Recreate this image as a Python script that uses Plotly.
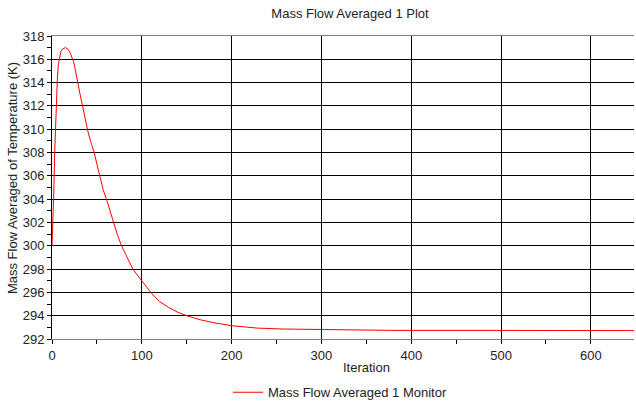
import plotly.graph_objects as go

# Monitor history: iteration number and mass-flow-averaged temperature (K)
iterations = [0, 1, 2, 3, 4, 5, 6, 7, 8, 9, 10, 12, 15, 18, 20, 22, 24, 26, 28,
              31, 34, 37, 40, 44, 47, 50, 53, 57, 61, 65, 69, 73, 78, 84, 90,
              100, 111, 120, 130, 140, 150, 165, 180, 200, 228, 255, 300, 374,
              378, 480, 648]
temperature = [300.0, 302.0, 304.6, 308.0, 310.6, 313.0, 314.4, 315.5, 316.0,
               316.5, 316.7, 316.9, 317.0, 316.85, 316.6, 316.2, 315.8, 315.1,
               314.2, 313.1, 312.0, 310.9, 309.8, 308.7, 308.0, 307.0, 306.0,
               304.8, 303.9, 302.9, 301.8, 300.9, 299.9, 298.9, 298.0, 297.0,
               295.9, 295.2, 294.7, 294.3, 294.0, 293.65, 293.4, 293.14, 292.94,
               292.86, 292.83, 292.80, 292.74, 292.74, 292.72]

x_ticks = [0, 100, 200, 300, 400, 500, 600]
y_ticks = [292, 294, 296, 298, 300, 302, 304, 306, 308, 310, 312, 314, 316, 318]

FONT = "Liberation Sans, Arial, sans-serif"
W, H = 636, 409
ML, MR, MT, MB = 52, 2, 36, 66
PW, PH = W - ML - MR, H - MT - MB


def px_x(p):
    return (p - ML) / PW


def px_y(p):
    return (H - MB - p) / PH


fig = go.Figure()
fig.add_trace(go.Scatter(
    x=iterations, y=temperature, mode="lines",
    name="Mass Flow Averaged 1 Monitor",
    line=dict(color="#ff0000", width=1),
))

fig.update_layout(
    width=W, height=H,
    margin=dict(l=ML, r=MR, t=MT, b=MB),
    paper_bgcolor="white", plot_bgcolor="white",
    font=dict(family=FONT, size=13, color="#222222"),
    title=dict(text="Mass Flow Averaged 1 Plot", x=350 / W, xanchor="center",
               y=1 - 13 / H, yanchor="middle", font=dict(size=13, color="#222222")),
    showlegend=True,
    legend=dict(orientation="h", x=px_x(228), xanchor="left",
                y=px_y(397), yanchor="middle", font=dict(size=13),
                bgcolor="rgba(0,0,0,0)"),
    xaxis=dict(range=[0, 648], tickvals=x_ticks, showgrid=True,
               gridcolor="#000000", gridwidth=1, zeroline=False,
               showline=True, linecolor="#808080", linewidth=1, mirror=True,
               ticks="outside", ticklen=4, tickcolor="#000000",
               minor=dict(dtick=50, tick0=0, ticks="outside", ticklen=4,
                          tickcolor="#000000", showgrid=False),
               tickfont=dict(size=13)),
    yaxis=dict(range=[292, 318], tickvals=y_ticks, showgrid=True,
               gridcolor="#000000", gridwidth=1, zeroline=False,
               showline=True, linecolor="#000000", linewidth=1,
               ticks="outside", ticklen=4, tickcolor="#000000",
               minor=dict(dtick=1, tick0=292, ticks="outside", ticklen=4,
                          tickcolor="#000000", showgrid=False),
               tickfont=dict(size=13)),
    annotations=[
        dict(text="Iteration", xref="paper", yref="paper",
             x=px_x(366), y=px_y(372), xanchor="center", yanchor="middle",
             showarrow=False, font=dict(size=13)),
        dict(text="Mass Flow Averaged of Temperature (K)", xref="paper",
             yref="paper", x=px_x(12), y=px_y(180), xanchor="center",
             yanchor="middle", textangle=-90, showarrow=False,
             font=dict(size=13)),
    ],
)

fig.write_html("out.html")
